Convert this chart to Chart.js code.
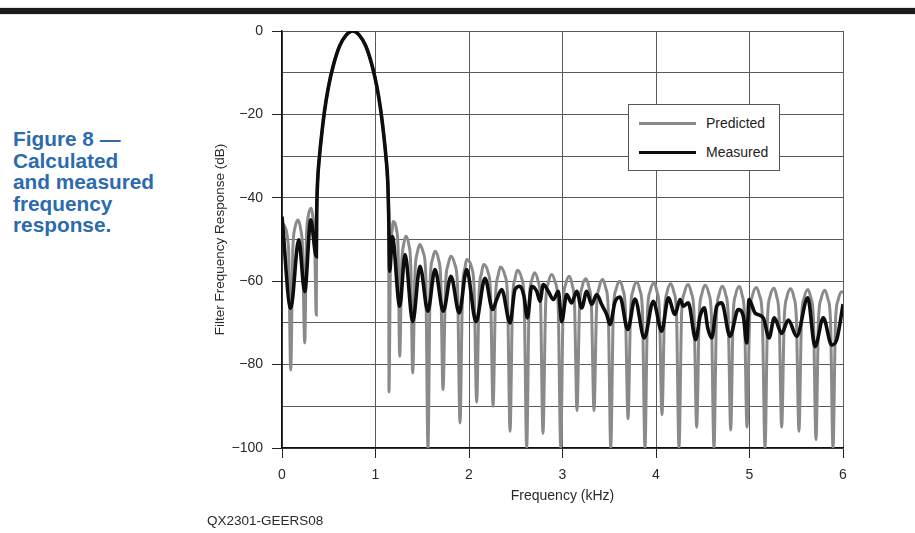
<!DOCTYPE html>
<html>
<head>
<meta charset="utf-8">
<script src="https://cdn.jsdelivr.net/npm/chart.js@4.4.1/dist/chart.umd.min.js"></script>
<style>
  html, body { margin: 0; padding: 0; background: #ffffff; }
  body { width: 915px; height: 533px; position: relative; overflow: hidden; font-family: "Liberation Sans", Arial, sans-serif; }
  #topbar { position: absolute; left: 0; top: 8px; width: 915px; height: 6px; background: #1c1c1c; box-shadow: 0 0 1px #666; }
  #caption { position: absolute; left: 13px; top: 128px; font-size: 20.8px; font-weight: bold; line-height: 21.5px; color: #2c6bad; }
  #code { position: absolute; left: 207px; top: 513px; font-size: 13.5px; color: #2a2a2a; }
  #chart { position: absolute; left: 0; top: 0; }
  #legend { position: absolute; left: 628px; top: 104px; width: 150px; height: 65px; border: 1px solid #555; background: #fff; }
  .lg-line { position: absolute; left: 10px; width: 57px; height: 3px; }
  .lg-text { position: absolute; left: 77px; font-size: 14px; color: #222; line-height: 16px; }
</style>
</head>
<body>
<div id="topbar"></div>
<div id="caption">Figure 8 —<br>Calculated<br>and measured<br>frequency<br>response.</div>
<canvas id="chart" width="915" height="533"></canvas>
<div id="legend">
  <div class="lg-line" style="top:17px;background:#8a8a8a;"></div>
  <div class="lg-text" style="top:10px;">Predicted</div>
  <div class="lg-line" style="top:46px;background:#0d0d0d;"></div>
  <div class="lg-text" style="top:39px;">Measured</div>
</div>
<div id="code">QX2301-GEERS08</div>
<script>
// ---- data ----
const xTickValues = [0, 1, 2, 3, 4, 5, 6];
const yTickValues = [0, -20, -40, -60, -80, -100];
const xTitle = "Frequency (kHz)";
const yTitle = "Filter Frequency Response (dB)";
const seriesNames = ["Predicted", "Measured"];

// Predicted (grey) response: frequency in kHz, level in dB
const predFreq = [
  0, 0.07, 0.093,
  0.116, 0.138, 0.171, 0.198, 0.22, 0.243,
  0.262, 0.280, 0.313, 0.330, 0.348, 0.367,
  0.371, 0.381, 0.401, 0.426, 0.456, 0.496, 0.546, 0.616, 0.686, 0.756, 0.826, 0.896, 0.966, 1.016, 1.056, 1.086, 1.111, 1.131, 1.141,
  1.144,
  1.161, 1.179, 1.187, 1.225, 1.242, 1.259,
  1.280, 1.301, 1.326, 1.356, 1.377, 1.398,
  1.422, 1.447, 1.476, 1.512, 1.537, 1.561,
  1.585, 1.609, 1.636, 1.674, 1.698, 1.722,
  1.749, 1.777, 1.807, 1.849, 1.877, 1.904,
  1.931, 1.957, 1.975, 2.029, 2.055, 2.082,
  2.108, 2.135, 2.155, 2.205, 2.231, 2.257,
  2.284, 2.312, 2.335, 2.384, 2.412, 2.439,
  2.466, 2.492, 2.517, 2.564, 2.590, 2.617,
  2.643, 2.669, 2.701, 2.739, 2.765, 2.791,
  2.820, 2.848, 2.884, 2.924, 2.953, 2.981,
  3.007, 3.033, 3.072, 3.103, 3.129, 3.155,
  3.182, 3.210, 3.250, 3.282, 3.310, 3.337,
  3.364, 3.391, 3.430, 3.462, 3.489, 3.516,
  3.544, 3.572, 3.610, 3.646, 3.673, 3.701,
  3.728, 3.755, 3.797, 3.828, 3.855, 3.882,
  3.909, 3.937, 3.979, 4.009, 4.037, 4.064,
  4.091, 4.119, 4.160, 4.191, 4.219, 4.246,
  4.274, 4.303, 4.342, 4.378, 4.407, 4.435,
  4.463, 4.491, 4.524, 4.565, 4.592, 4.620,
  4.647, 4.674, 4.711, 4.745, 4.772, 4.799,
  4.825, 4.851, 4.893, 4.921, 4.947, 4.973,
  5.002, 5.031, 5.075, 5.108, 5.137, 5.166,
  5.193, 5.219, 5.262, 5.291, 5.317, 5.344,
  5.372, 5.400, 5.439, 5.474, 5.501, 5.529,
  5.556, 5.584, 5.626, 5.656, 5.684, 5.711,
  5.738, 5.766, 5.807, 5.838, 5.866, 5.893,
  5.920, 5.948, 5.985, 6.0
];
const predDb = [
  -46, -52, -81.3,
  -52.3, -47.3, -45.3, -47.3, -52.3, -74.8,
  -49.5, -44.5, -42.5, -44.5, -49.5, -68.1,
  -44, -36, -30, -24.5, -19, -13.5, -8.5, -3.6, -1, 0, -1, -3.6, -8.5, -13.5, -19, -24.5, -30, -36, -44,
  -86.5,
  -52.7, -47.7, -45.7, -47.7, -52.7, -78,
  -56.2, -51.2, -49.2, -51.2, -56.2, -82,
  -58.2, -53.2, -51.2, -53.2, -58.2, -100,
  -59.8, -54.8, -52.8, -54.8, -59.8, -86,
  -61, -56, -54, -56, -61, -94,
  -61.8, -56.8, -54.8, -56.8, -61.8, -89,
  -63, -58, -56, -58, -63, -90,
  -63.6, -58.6, -56.6, -58.6, -63.6, -96,
  -64.4, -59.4, -57.4, -59.4, -64.4, -100,
  -65, -60, -58, -60, -65, -96.5,
  -65.4, -60.4, -58.4, -60.4, -65.4, -100,
  -65.8, -60.8, -58.8, -60.8, -65.8, -91,
  -66.4, -61.4, -59.4, -61.4, -66.4, -91,
  -66.6, -61.6, -59.6, -61.6, -66.6, -100,
  -67, -62, -60, -62, -67, -93,
  -67.2, -62.2, -60.2, -62.2, -67.2, -100,
  -67.4, -62.4, -60.4, -62.4, -67.4, -92,
  -67.6, -62.6, -60.6, -62.6, -67.6, -100,
  -67.8, -62.8, -60.8, -62.8, -67.8, -95,
  -68, -63, -61, -63, -68, -100,
  -68.2, -63.2, -61.2, -63.2, -68.2, -95.7,
  -68.3, -63.3, -61.3, -63.3, -68.3, -95,
  -68.5, -63.5, -61.5, -63.5, -68.5, -100,
  -68.7, -63.7, -61.7, -63.7, -68.7, -95,
  -68.8, -63.8, -61.8, -63.8, -68.8, -96,
  -69, -64, -62, -64, -69, -98,
  -69.2, -64.2, -62.2, -64.2, -69.2, -100,
  -69.5, -64.5, -62.5, -62.8
];

// Measured (black) response: frequency in kHz, level in dB
const measFreq = [
  0, 0.093, 0.179, 0.243, 0.307, 0.367,
  0.371, 0.381, 0.401, 0.426, 0.456, 0.496, 0.546, 0.616, 0.686, 0.756, 0.826, 0.896, 0.966, 1.016, 1.056, 1.086, 1.111, 1.131, 1.141,
  1.152, 1.18, 1.259, 1.316, 1.398, 1.476, 1.56, 1.636, 1.725, 1.807, 1.895, 1.975, 2.075, 2.171, 2.253,
  2.296, 2.350, 2.439, 2.492, 2.545, 2.588, 2.624, 2.671, 2.724, 2.759, 2.795, 2.848, 2.902, 2.955, 2.991,
  3.045, 3.098, 3.152, 3.205, 3.259, 3.312, 3.366, 3.419, 3.473, 3.508, 3.561, 3.615, 3.697, 3.775, 3.875,
  3.971, 4.061, 4.132, 4.203, 4.257, 4.292, 4.345, 4.425, 4.471, 4.517, 4.553, 4.596, 4.649, 4.703, 4.791,
  4.880, 4.934, 4.970, 4.995, 5.059, 5.148, 5.209, 5.265, 5.344, 5.415, 5.505, 5.623, 5.701, 5.789, 5.879,
  5.933, 5.986, 6.0
];
const measDb = [
  -44.5, -66.5, -50.1, -62.5, -45.3, -54.1,
  -44, -36, -30, -24.5, -19, -13.5, -8.5, -3.6, -1, 0, -1, -3.6, -8.5, -13.5, -19, -24.5, -30, -36, -44,
  -57.6, -49.3, -66, -53.6, -69.7, -56.4, -67.2, -57.2, -67.2, -58.8, -67.6, -57.2, -69.7, -59.3, -66.8,
  -64.4, -62, -70, -62, -61.2, -63.6, -68.8, -61.2, -62.4, -64.8, -60.8, -62.4, -64.4, -62.4, -69.7,
  -63.2, -65.2, -62.4, -66.4, -62.4, -65.6, -63.2, -65.6, -68, -70.4, -65, -63.8, -71.6, -64.3, -73.6,
  -64.8, -72, -64, -68, -64.4, -66, -65.2, -74, -68.4, -66.4, -71.2, -73.6, -66, -65.2, -73.2,
  -66.8, -68.4, -74.8, -64.4, -67.6, -68.8, -73.6, -68.8, -72.5, -69.3, -73.2, -64, -75.7, -68.8, -75.3,
  -74, -67.6, -65.5
];

const toPoints = (xs, ys) => xs.map((x, i) => ({ x: x, y: ys[i] }));
const fmt = v => (v < 0 ? "\u2212" + Math.abs(v) : String(v));

const gridColor = "#5a5a5a";
const textColor = "#2a2a2a";

new Chart(document.getElementById("chart"), {
  type: "line",
  data: {
    datasets: [
      {
        label: seriesNames[1],
        data: toPoints(measFreq, measDb),
        borderColor: "#0d0d0d",
        borderWidth: 3.6,
        pointRadius: 0,
        cubicInterpolationMode: "monotone",
        order: 0
      },
      {
        label: seriesNames[0],
        data: toPoints(predFreq, predDb),
        borderColor: "#8a8a8a",
        borderWidth: 3,
        pointRadius: 0,
        cubicInterpolationMode: "monotone",
        order: 1
      }
    ]
  },
  options: {
    responsive: false,
    animation: false,
    devicePixelRatio: 1,
    layout: { padding: { left: 0, right: 72, top: 31, bottom: 0 } },
    plugins: { legend: { display: false }, tooltip: { enabled: false } },
    scales: {
      x: {
        type: "linear",
        min: 0, max: 6,
        afterFit: s => { s.height = 85; },
        afterBuildTicks: s => { s.ticks = xTickValues.map(v => ({ value: v })); },
        ticks: { color: textColor, font: { family: "Liberation Sans", size: 14 }, padding: 9, maxRotation: 0 },
        grid: { color: gridColor, lineWidth: 1, tickLength: 10, tickColor: "#222" },
        border: { color: "#111", width: 1.5 },
        title: { display: true, text: xTitle, color: textColor, font: { family: "Liberation Sans", size: 14 }, padding: { top: 0, bottom: 28 } }
      },
      y: {
        min: -100, max: 0,
        afterFit: s => { s.width = 282; },
        ticks: {
          stepSize: 10,
          color: textColor,
          font: { family: "Liberation Sans", size: 14 },
          padding: 9,
          callback: v => (yTickValues.includes(v) ? fmt(v) : "")
        },
        grid: {
          color: gridColor, lineWidth: 1, tickLength: 10,
          tickColor: ctx => (yTickValues.includes(ctx.tick && ctx.tick.value) ? "#222" : "rgba(0,0,0,0)")
        },
        border: { color: "#111", width: 1.5 },
        title: { display: true, text: yTitle, color: textColor, font: { family: "Liberation Sans", size: 13.5 }, padding: { top: 212, bottom: 0 } }
      }
    }
  }
});
</script>
</body>
</html>
